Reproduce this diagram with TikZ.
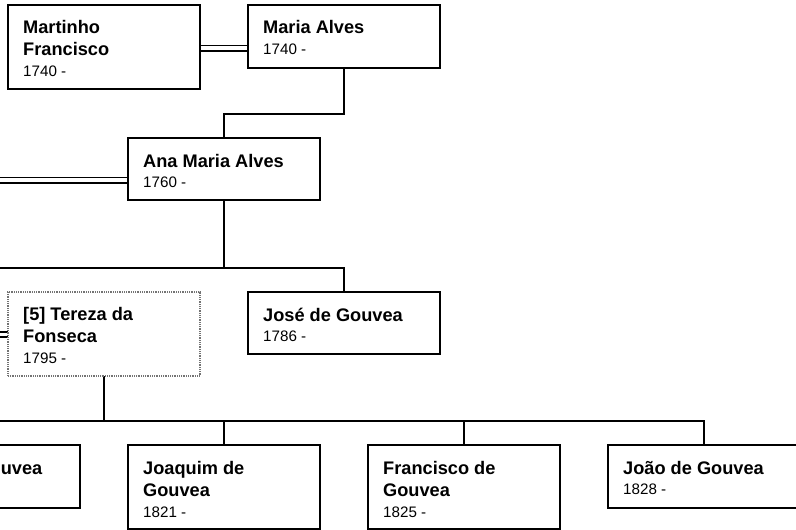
\documentclass[tikz,border=0pt]{standalone}
\usepackage{fontspec}
\setmainfont{Liberation Sans}
\usetikzlibrary{backgrounds}
\begin{document}
\begin{tikzpicture}[x=1pt,y=-1pt,
  pbox/.style={draw, line width=2.3pt, minimum width=192pt, anchor=north west, inner sep=0pt, outer sep=0pt},
  gbox/.style={pbox, draw=black!55, dash pattern=on 1pt off 0.8pt, line width=2pt},
  nm/.style={font=\bfseries\fontsize{18.2}{21}\selectfont, anchor=base west, inner sep=0pt},
  dt/.style={font=\fontsize{15.2}{18}\selectfont, anchor=base west, inner sep=0pt},
  link/.style={draw, line width=2.2pt},
  thinlink/.style={draw, line width=1.6pt},
  dbl/.style={draw, double, double distance=3.8pt, line width=1.6pt}]
\useasboundingbox (0,0) rectangle (796,530);
\clip (0,0) rectangle (796,530);

% boxes
\node[pbox, minimum height=84pt] (martinho) at (8,5) {};
\node[pbox, minimum height=63pt] (maria) at (248,5) {};
\node[pbox, minimum height=62pt] (ana) at (128,138) {};
\node[pbox, minimum height=62pt] (jose) at (248,292) {};
\node[gbox, minimum height=84pt] (tereza) at (8,292) {};
\node[pbox, minimum height=63pt] (leftkid) at (-112,445) {};
\node[pbox, minimum height=84pt] (joaquim) at (128,445) {};
\node[pbox, minimum height=84pt] (francisco) at (368,445) {};
\node[pbox, minimum height=63pt] (joao) at (608,445) {};

% texts
\node[nm] (martinhoA) at (23,34) {Martinho};
\node[nm] (martinhoB) at (23,55) {Francisco};
\node[dt] (martinhoD) at (23,76) {1740 -};
\node[nm] (mariaA) at (263,34) {Maria Alves};
\node[dt] (mariaD) at (263,54) {1740 -};
\node[nm] (anaA) at (143,167) {Ana Maria Alves};
\node[dt] (anaD) at (143,187) {1760 -};
\node[nm] (joseA) at (263,321) {José de Gouvea};
\node[dt] (joseD) at (263,341) {1786 -};
\node[nm] (terezaA) at (23,320) {[5] Tereza da};
\node[nm] (terezaB) at (23,342) {Fonseca};
\node[dt] (terezaD) at (23,363) {1795 -};
\node[nm, anchor=base east] (leftkidA) at (42.5,474) {Gouvea};
\node[nm] (joaquimA) at (143,474) {Joaquim de};
\node[nm] (joaquimB) at (143,496) {Gouvea};
\node[dt] (joaquimD) at (143,517) {1821 -};
\node[nm] (franciscoA) at (383,474) {Francisco de};
\node[nm] (franciscoB) at (383,496) {Gouvea};
\node[dt] (franciscoD) at (383,517) {1825 -};
\node[nm] (joaoA) at (623,474) {João de Gouvea};
\node[dt] (joaoD) at (623,494) {1828 -};

\coordinate (anaSp) at (-20,180);
\coordinate (terezaSp) at (-20,334.5);
\coordinate (sibL) at (-20,268);
\coordinate (kidL) at (-20,421);

\begin{pgfonlayer}{background}
\clip (0,0) rectangle (796,530);
% marriages
\draw[dbl] (martinho.east |- 0,48) -- (maria.west |- 0,48);
\draw[dbl] (anaSp) -- (ana.west |- anaSp);
\draw[dbl] (terezaSp) -- (tereza.west |- terezaSp);
% parent to child
\draw[link] (maria.south) -- (maria.south |- 0,114) -| (ana.north);
\draw[link] (ana.south) -- (ana.south |- sibL);
\draw[link] (sibL) -| (jose.north);
\draw[link] (tereza.south) -- (tereza.south |- kidL);
\draw[link] (kidL) -| (leftkid.north);
\draw[link] (kidL) -| (joaquim.north);
\draw[link] (kidL) -| (francisco.north);
\draw[thinlink] (francisco.north |- kidL) -| (joao.north);
\end{pgfonlayer}
\end{tikzpicture}
\end{document}
